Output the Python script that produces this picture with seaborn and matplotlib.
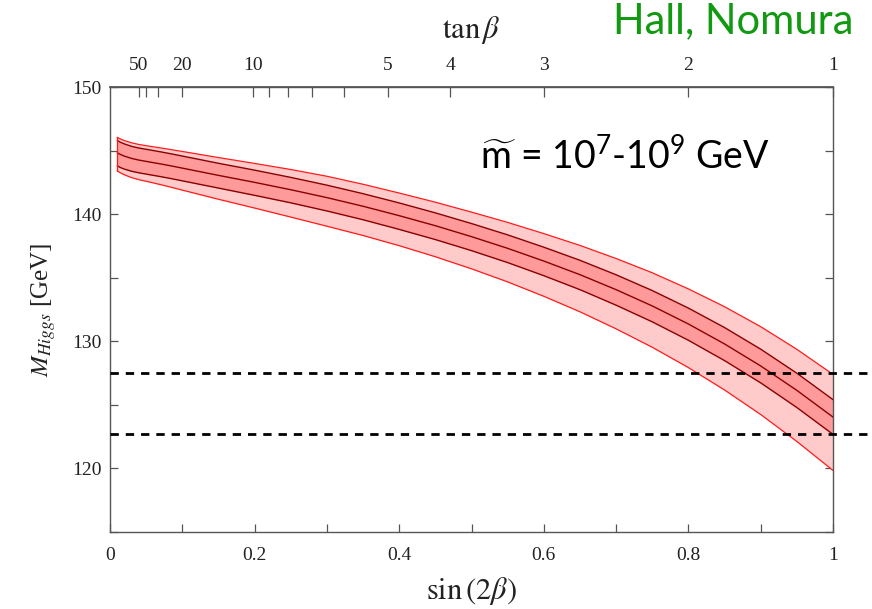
import numpy as np
import pandas as pd
import matplotlib
matplotlib.use("Agg")
import matplotlib.pyplot as plt
import seaborn as sns

# Higgs mass prediction versus sin(2 beta): central value and band half-widths (GeV)
sin2b = [0.01, 0.015, 0.02, 0.03, 0.04, 0.055, 0.07, 0.085, 0.1, 0.15, 0.2, 0.25, 0.3,
         0.35, 0.4, 0.45, 0.5, 0.55, 0.6, 0.65, 0.7, 0.75, 0.8, 0.85, 0.9, 0.95, 1.0]
m_center = [144.82, 144.68, 144.56, 144.38, 144.25, 144.10, 143.95, 143.79, 143.62,
            143.05, 142.50, 141.92, 141.30, 140.62, 139.88, 139.09, 138.23, 137.31,
            136.31, 135.24, 134.06, 132.78, 131.36, 129.79, 128.06, 126.14, 124.04]
inner_up = [0.97, 0.96, 0.96, 0.95, 0.95, 0.95, 0.95, 0.95, 0.95, 0.95, 0.96, 0.97, 0.98,
            0.99, 1.00, 1.01, 1.03, 1.06, 1.09, 1.13, 1.17, 1.21, 1.25, 1.29, 1.32, 1.35, 1.37]
inner_dn = [1.03, 1.03, 1.02, 1.01, 1.00, 1.00, 1.00, 1.00, 1.00, 1.00, 1.02, 1.03, 1.05,
            1.06, 1.08, 1.09, 1.10, 1.12, 1.15, 1.18, 1.22, 1.25, 1.28, 1.31, 1.33, 1.35, 1.36]
outer_up = [1.22, 1.22, 1.22, 1.23, 1.23, 1.24, 1.26, 1.28, 1.31, 1.40, 1.49, 1.59, 1.68,
            1.73, 1.78, 1.85, 1.93, 2.04, 2.16, 2.30, 2.45, 2.61, 2.76, 2.93, 3.09, 3.23, 3.36]
outer_dn = [1.42, 1.45, 1.47, 1.51, 1.54, 1.58, 1.63, 1.68, 1.73, 1.88, 2.02, 2.15, 2.25,
            2.30, 2.36, 2.44, 2.53, 2.64, 2.77, 2.92, 3.08, 3.25, 3.43, 3.62, 3.82, 4.02, 4.20]

# measured Higgs mass window
m_window = [127.5, 122.7]

# tan(beta) values marked on the top axis
tanb_labeled = [50, 20, 10, 5, 4, 3, 2, 1]
tanb_minor = [40, 30, 9, 8, 7, 6]

df = pd.DataFrame({"s": sin2b, "center": m_center})
df["ihi"] = df["center"] + np.array(inner_up)
df["ilo"] = df["center"] - np.array(inner_dn)
df["ohi"] = df["center"] + np.array(outer_up)
df["olo"] = df["center"] - np.array(outer_dn)

sns.set_theme(style="ticks")
plt.rcParams["font.family"] = ["Liberation Serif", "DejaVu Serif"]
plt.rcParams["mathtext.fontset"] = "custom"
plt.rcParams["mathtext.rm"] = "Lato"
plt.rcParams["mathtext.it"] = "Lato:italic"

fig = plt.figure(figsize=(8.72, 6.09), dpi=100)
ax = fig.add_axes([110 / 872, 1 - 532 / 609, 723 / 872, 445 / 609])

light = "#ffcaca"
mid = "#ff9a9a"
edge = "#ff1a1a"
dark = "#8a0000"

ax.fill_between(df["s"], df["olo"], df["ohi"], color=light, lw=0, zorder=1)
ax.fill_between(df["s"], df["ilo"], df["ihi"], color=mid, lw=0, zorder=2)
for col, c, w in [("ohi", edge, 0.9), ("olo", edge, 0.9),
                  ("ihi", dark, 1.0), ("ilo", dark, 1.0), ("center", dark, 1.0)]:
    sns.lineplot(data=df, x="s", y=col, color=c, lw=w, ax=ax, zorder=3)
# short vertical cap closing the bands at the left end
ax.plot([sin2b[0], sin2b[0]], [df["olo"].iloc[0], df["ohi"].iloc[0]], color=edge,
        lw=0.9, zorder=3)

for m in m_window:
    ax.plot([0, 1.06], [m, m], color="black", lw=2.0, ls=(0, (3, 2.5)),
            clip_on=False, zorder=4)

ax.set_xlim(0, 1)
ax.set_ylim(115, 150)
ax.set_xticks([0, 0.2, 0.4, 0.6, 0.8, 1.0])
ax.set_xticklabels(["0", "0.2", "0.4", "0.6", "0.8", "1"])
ax.set_xticks([0.1, 0.3, 0.5, 0.7, 0.9], minor=True)
ax.set_yticks([120, 130, 140, 150])
ax.set_yticks([115, 125, 135, 145], minor=True)

spine_c = "#555555"
for sp in ax.spines.values():
    sp.set_color(spine_c)
    sp.set_linewidth(1.0)
    sp.set_visible(True)

ax.tick_params(axis="both", which="both", direction="in", color=spine_c, width=0.9,
               labelsize=14, labelcolor="#222222")
ax.tick_params(axis="x", which="both", length=6, pad=11, top=False)
ax.tick_params(axis="y", which="both", length=6, pad=6, right=True)

ax.set_xlabel(r"$\mathrm{sin}\,(2\beta)$", fontsize=22, labelpad=8,
              math_fontfamily="stix", color="#222222")
ax.set_ylabel(r"$M_{Higgs}$ [GeV]", fontsize=18, labelpad=10,
              math_fontfamily="stix", color="#222222")

# top axis in tan(beta)
def to_sin2b(t):
    t = np.asarray(t, dtype=float)
    return 2 * t / (1 + t ** 2)

top = ax.secondary_xaxis("top")
top.set_xticks(to_sin2b(tanb_labeled))
top.set_xticklabels([str(t) for t in tanb_labeled])
top.set_xticks(to_sin2b(tanb_minor), minor=True)
top.tick_params(which="both", direction="in", length=7, width=0.9, color=spine_c,
                labelsize=14, pad=9, labelcolor="#222222")
top.spines["top"].set_color(spine_c)
top.set_xlabel(r"$\mathrm{tan}\,\beta$", fontsize=22, labelpad=14,
               math_fontfamily="stix", color="#222222")

ax.text(0.512, 0.845, r"$\widetilde{\mathrm{m}}$ = 10$^{7}$-10$^{9}$ GeV",
        transform=ax.transAxes, fontsize=27, family="Lato", color="black",
        math_fontfamily="custom", ha="left", va="center", zorder=5)

fig.text(613 / 872, 1 - 33 / 609, "Hall, Nomura", fontsize=30, family="Lato",
         color="#119911", ha="left", va="baseline")

fig.savefig("out.png", dpi=100)
